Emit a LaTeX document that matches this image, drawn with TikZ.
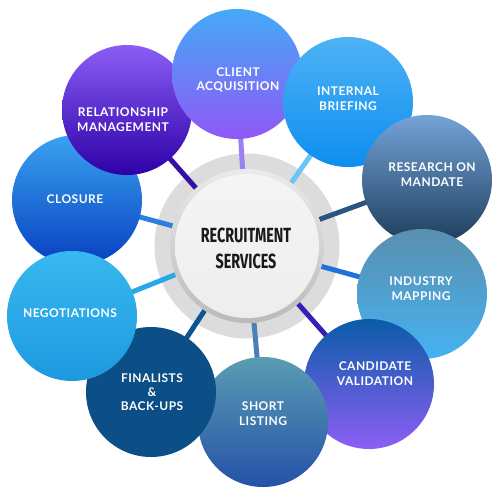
\documentclass[tikz,border=0pt]{standalone}
\usepackage{fontspec}
\usepackage{graphicx}
\newfontfamily\labfont[LetterSpace=4]{Lato}
\newfontfamily\ctrfont{Fira Sans}
\pgfdeclarelayer{bg}
\pgfdeclarelayer{lines}
\pgfsetlayers{bg,lines,main}
\definecolor{ringgray}{HTML}{DCDCDC}
% circle colours (top / bottom)
\definecolor{cloT}{HTML}{3AA2F0}\definecolor{cloB}{HTML}{0740C0}
\definecolor{relT}{HTML}{8A5EF5}\definecolor{relB}{HTML}{2E00A8}
\definecolor{cliT}{HTML}{45AAF7}\definecolor{cliB}{HTML}{8F58F7}
\definecolor{intT}{HTML}{4EB2F5}\definecolor{intB}{HTML}{0D8EF0}
\definecolor{resT}{HTML}{74A3D8}\definecolor{resB}{HTML}{1C3C5A}
\definecolor{indT}{HTML}{5A8FAE}\definecolor{indB}{HTML}{45B2F2}
\definecolor{canT}{HTML}{0A5CA8}\definecolor{canB}{HTML}{8D5EF5}
\definecolor{shoT}{HTML}{5A9DB2}\definecolor{shoB}{HTML}{2552A8}
\definecolor{finC}{HTML}{0B4F86}
\definecolor{negT}{HTML}{38B8F0}\definecolor{negB}{HTML}{1D99DF}
% connector colours
\definecolor{lclo}{HTML}{2A80E0}
\definecolor{lrel}{HTML}{3510A5}
\definecolor{lcli}{HTML}{9B7FF5}
\definecolor{lint}{HTML}{6EC3F7}
\definecolor{lres}{HTML}{2A5580}
\definecolor{lind}{HTML}{2070E0}
\definecolor{lcan}{HTML}{3A1CB8}
\definecolor{lsho}{HTML}{4A80B5}
\definecolor{lfin}{HTML}{0D5590}
\definecolor{lneg}{HTML}{29A8E8}
\tikzset{
  sat/.style={circle, inner sep=0pt, minimum size=130bp},
  lab/.style={text=white, align=center, font=\labfont\bfseries\fontsize{12bp}{14.8bp}\selectfont},
  conn/.style={line width=5bp},
}
\begin{document}
\begin{tikzpicture}[x=1bp,y=-1bp]
\useasboundingbox (0,0) rectangle (500,494);
% central hub
\begin{pgfonlayer}{bg}
\fill[ringgray] (247,246) circle (92.5);
\end{pgfonlayer}
\node[circle, inner sep=0pt, minimum size=154bp, top color=white!92!black, bottom color=black!27] (ctr) at (247,246) {};
\node[circle, inner sep=0pt, minimum size=144bp, top color=white!96!black, bottom color=white!93!black] (disk) at (247,246) {};
\node[font=\ctrfont\bfseries\fontsize{20.5bp}{26bp}\selectfont, align=center, text=black!90] (title) at (246,248) {\scalebox{0.7}[1]{RECRUITMENT}\\\scalebox{0.7}[1]{SERVICES}};
% satellites (drawn in stacking order)
\node[sat, top color=cloT, bottom color=cloB] (clo) at (77,200) {};
\node[sat, top color=relT, bottom color=relB] (rel) at (127,110) {};
\node[sat, top color=cliT, bottom color=cliB] (cli) at (237,74) {};
\node[sat, top color=intT, bottom color=intB] (int) at (348,102) {};
\node[sat, top color=resT, bottom color=resB] (res) at (427,180) {};
\node[sat, top color=indT, bottom color=indB] (ind) at (422,294) {};
\node[sat, top color=canT, bottom color=canB] (can) at (369,384) {};
\node[sat, top color=shoT, bottom color=shoB] (sho) at (263,422) {};
\node[sat, fill=finC] (fin) at (151,392) {};
\node[sat, top color=negT, bottom color=negB] (neg) at (72,316) {};
% labels
\node[lab] (tclo) at (75,199) {CLOSURE};
\node[lab] (trel) at (123,120) {RELATIONSHIP\\MANAGEMENT};
\node[lab] (tcli) at (238,80) {CLIENT\\ACQUISITION};
\node[lab] (tint) at (348,99) {INTERNAL\\BRIEFING};
\node[lab] (tres) at (432,175) {RESEARCH ON\\MANDATE};
\node[lab] (tind) at (421,289) {INDUSTRY\\MAPPING};
\node[lab] (tcan) at (375,374) {CANDIDATE\\VALIDATION};
\node[lab] (tsho) at (263,414) {SHORT\\LISTING};
\node[lab, font=\labfont\bfseries\fontsize{12bp}{14bp}\selectfont] (tfin) at (152,392) {FINALISTS\\\&\\BACK-UPS};
\node[lab] (tneg) at (70,313) {NEGOTIATIONS};
% connectors
\begin{pgfonlayer}{lines}
\draw[conn, lclo] (ctr) -- (clo.center);
\draw[conn, lrel] (ctr) -- (rel.center);
\draw[conn, lcli] (ctr) -- (cli.center);
\draw[conn, lint] (ctr) -- (int.center);
\draw[conn, lres] (ctr) -- (res.center);
\draw[conn, lind] (ctr) -- (ind.center);
\draw[conn, lcan] (ctr) -- (can.center);
\draw[conn, lsho] (ctr) -- (sho.center);
\draw[conn, lfin] (ctr) -- (fin.center);
\draw[conn, lneg] (ctr) -- (neg.center);
\end{pgfonlayer}
\end{tikzpicture}
\end{document}
